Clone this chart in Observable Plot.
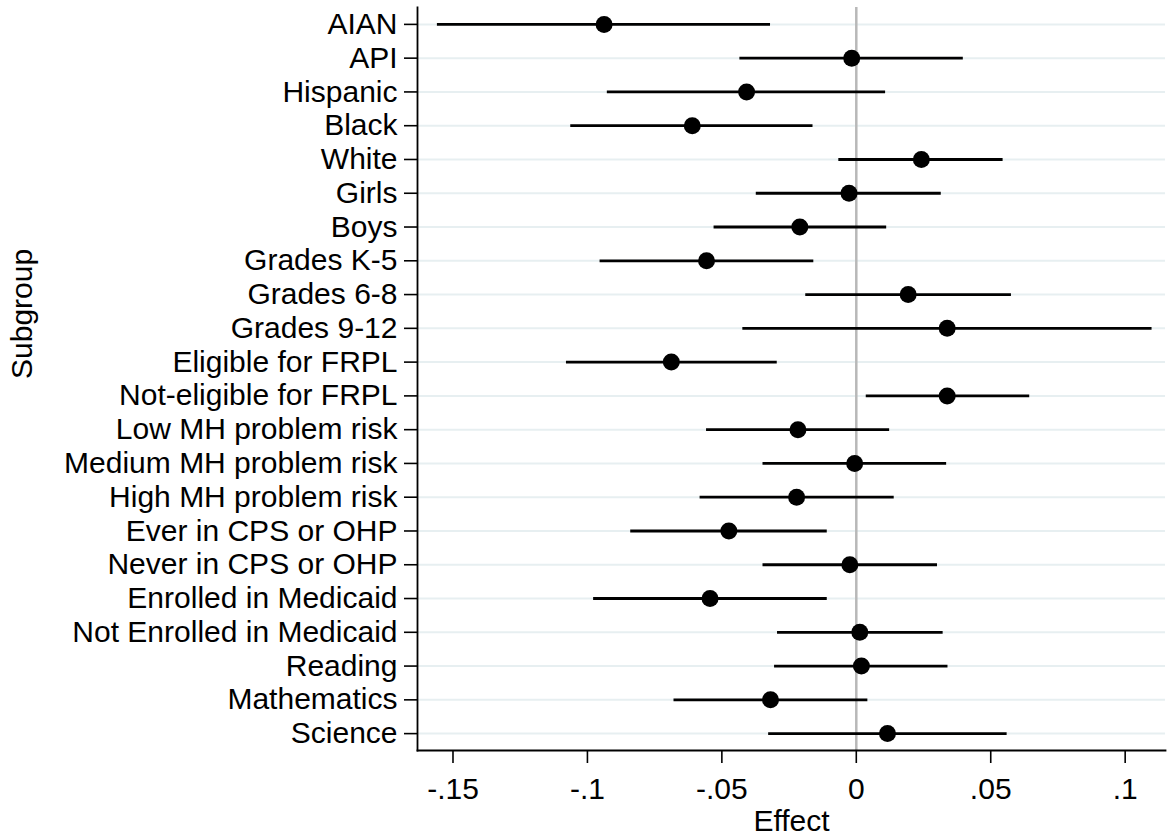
<!DOCTYPE html>
<html>
<head>
<meta charset="utf-8">
<script src="https://cdn.jsdelivr.net/npm/d3@7"></script>
<script src="https://cdn.jsdelivr.net/npm/@observablehq/plot@0.6"></script>
<style>
  html, body { margin: 0; padding: 0; background: white; }
</style>
</head>
<body>
<div id="chart"></div>
<script>
const groups = [
  "AIAN", "API", "Hispanic", "Black", "White", "Girls", "Boys",
  "Grades K-5", "Grades 6-8", "Grades 9-12", "Eligible for FRPL",
  "Not-eligible for FRPL", "Low MH problem risk", "Medium MH problem risk",
  "High MH problem risk", "Ever in CPS or OHP", "Never in CPS or OHP",
  "Enrolled in Medicaid", "Not Enrolled in Medicaid", "Reading",
  "Mathematics", "Science"
];
const estimates = [
  -0.0938, -0.0017, -0.0408, -0.0610, 0.0242, -0.0027, -0.0210,
  -0.0557, 0.0193, 0.0338, -0.0688, 0.0338, -0.0217, -0.0006,
  -0.0222, -0.0474, -0.0024, -0.0544, 0.0013, 0.0019, -0.0319, 0.0116
];
const lower = [
  -0.1558, -0.0433, -0.0926, -0.1062, -0.0065, -0.0372, -0.0529,
  -0.0953, -0.0188, -0.0422, -0.1078, 0.0037, -0.0557, -0.0347,
  -0.0581, -0.0839, -0.0347, -0.0977, -0.0293, -0.0304, -0.0678, -0.0326
];
const upper = [
  -0.0319, 0.0398, 0.0109, -0.0161, 0.0546, 0.0316, 0.0113,
  -0.0158, 0.0577, 0.1100, -0.0294, 0.0645, 0.0124, 0.0336,
  0.0141, -0.0108, 0.0302, -0.0108, 0.0323, 0.0341, 0.0043, 0.0561
];
const xTicks = [-0.15, -0.1, -0.05, 0, 0.05, 0.1];
const xLabel = "Effect";
const yLabel = "Subgroup";

const rows = groups.map((g, i) => ({group: g, est: estimates[i], lo: lower[i], hi: upper[i]}));
const fmt = d => d === 0 ? "0" : String(d).replace(/^(-?)0\./, "$1.");

const chart = Plot.plot({
  width: 1167,
  height: 835,
  marginLeft: 417,
  marginRight: 2,
  marginTop: 7,
  marginBottom: 85,
  style: {fontFamily: "'Liberation Sans', Arial, sans-serif", fontSize: "30px", background: "white", color: "black"},
  x: {domain: [-0.1632, 0.1150]},
  y: {type: "point", domain: groups, padding: 0.5, round: false},
  marks: [
    Plot.gridY({stroke: "#e7eff1", strokeOpacity: 1, strokeWidth: 2}),
    Plot.ruleX([0], {stroke: "#b8b8b8", strokeWidth: 2.5}),
    Plot.ruleY(rows, {y: "group", x1: "lo", x2: "hi", stroke: "black", strokeWidth: 2.8}),
    Plot.dot(rows, {x: "est", y: "group", r: 8.5, fill: "black", stroke: "none"}),
    Plot.frame({anchor: "left", stroke: "black", strokeWidth: 1.8}),
    Plot.frame({anchor: "bottom", stroke: "black", strokeWidth: 1.8}),
    Plot.axisY({tickSize: 13, tickPadding: 7, fontSize: 30, label: null, strokeWidth: 1.6}),
    Plot.axisX({ticks: xTicks, tickFormat: fmt, tickSize: 13, tickPadding: 14, fontSize: 30, label: null, strokeWidth: 1.6}),
    Plot.text([xLabel], {text: d => d, frameAnchor: "bottom", lineAnchor: "top", dy: 58.7, fontSize: 30, fill: "black"}),
    Plot.text([yLabel], {text: d => d, frameAnchor: "left", rotate: -90, dx: -395, fontSize: 30, fill: "black"})
  ]
});
document.getElementById("chart").appendChild(chart);
</script>
</body>
</html>
